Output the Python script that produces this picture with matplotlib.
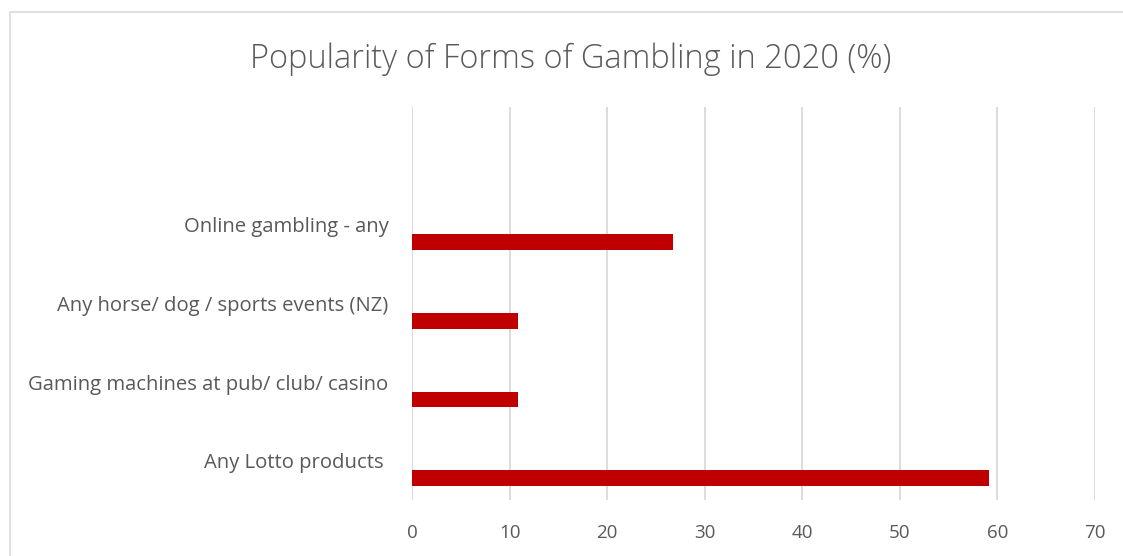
import numpy as np
import matplotlib.pyplot as plt
from matplotlib.patches import Rectangle

# Share of people taking part in each form of gambling, 2020 (%)
categories = [
    "Any Lotto products ",
    "Gaming machines at pub/ club/ casino",
    "Any horse/ dog / sports events (NZ)",
    "Online gambling - any",
]
values = [59.1, 10.9, 10.9, 26.7]
x_ticks = [0, 10, 20, 30, 40, 50, 60, 70]

TEXT = "#595959"
GRID = "#d9d9d9"
BAR = "#c00000"

plt.rcParams["font.family"] = ["Open Sans", "DejaVu Sans"]

fig = plt.figure(figsize=(11.23, 5.56), dpi=100)
ax = fig.add_axes([0.3669, 0.1007, 0.6082, 0.7069])

# chart frame
fig.patches.append(Rectangle((10 / 1123, -0.1), 1.2, 1 - 12 / 556 + 0.1,
                             transform=fig.transFigure, fill=False,
                             edgecolor=GRID, linewidth=1.2))

pos = np.arange(len(categories))
ax.barh(pos - 0.22, values, height=0.2, color=BAR, zorder=3)

ax.set_xlim(0, 70)
ax.set_ylim(-0.5, len(categories) + 0.5)
ax.set_xticks(x_ticks)
ax.set_xticklabels([str(t) for t in x_ticks], color=TEXT, fontsize=13.5)
ax.set_yticks(pos)
ax.set_yticklabels(categories, color=TEXT, fontsize=14.6)
ax.tick_params(axis="both", length=0)
ax.tick_params(axis="x", pad=17)
ax.tick_params(axis="y", pad=17)

ax.grid(axis="x", color=GRID, linewidth=1.3, zorder=0)
for side in ["top", "right", "bottom", "left"]:
    ax.spines[side].set_visible(False)

fig.text(0.508, 0.894, "Popularity of Forms of Gambling in 2020 (%)",
         ha="center", va="center", fontsize=23.5, color=TEXT, fontweight="light")

fig.savefig("out.png", dpi=100)
